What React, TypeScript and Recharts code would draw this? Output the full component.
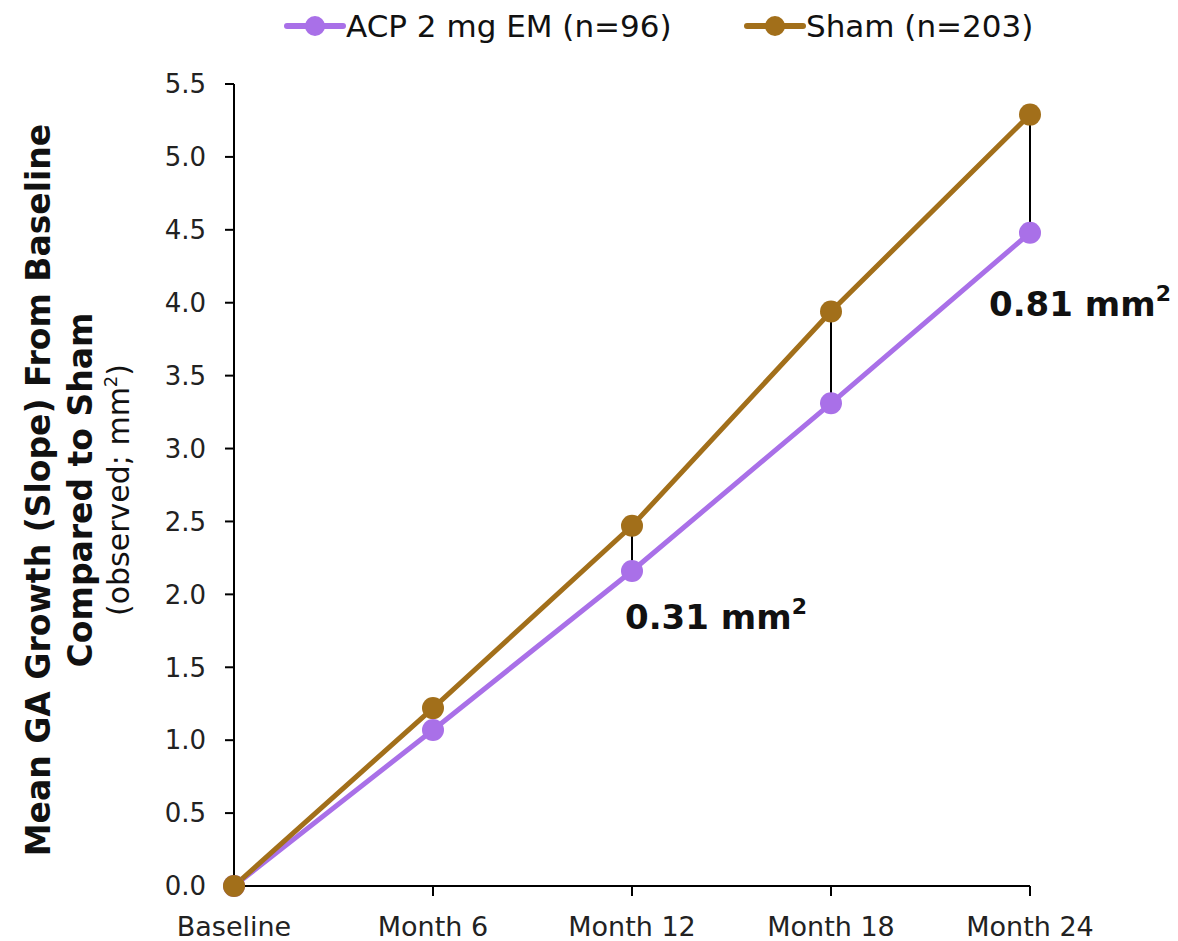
import React from 'react';
import {
  LineChart,
  Line,
  XAxis,
  YAxis,
  ReferenceLine,
  ReferenceDot,
} from 'recharts';

const months = ['Baseline', 'Month 6', 'Month 12', 'Month 18', 'Month 24'];
const acp = [0, 1.07, 2.16, 3.31, 4.48];
const sham = [0, 1.22, 2.47, 3.94, 5.29];
const yTicks = [0, 0.5, 1, 1.5, 2, 2.5, 3, 3.5, 4, 4.5, 5, 5.5];

const PURPLE = '#a970e8';
const BROWN = '#a26f1a';
const FONT = '"DejaVu Sans", "Open Sans", sans-serif';

const data = months.map((m, i) => ({ month: m, acp: acp[i], sham: sham[i] }));

// gap annotations: month index and label placement
const gaps = [
  { idx: 2, text: '0.31', dx: 84, dy: 58 },
  { idx: 3, text: '', dx: 0, dy: 0 },
  { idx: 4, text: '0.81', dx: 50, dy: 83 },
];

const GapLabel = ({ viewBox, text, dx, dy }: any) => {
  if (!text || !viewBox) return null;
  return (
    <text
      x={viewBox.x + dx}
      y={viewBox.y + dy}
      textAnchor="middle"
      fontFamily={FONT}
      fontWeight={700}
      fontSize={34}
      fill="#111"
    >
      {text} mm
      <tspan fontSize={22} dy={-15}>2</tspan>
    </text>
  );
};

const YTitle = () => (
  <text
    transform="translate(60,490) rotate(-90)"
    textAnchor="middle"
    fontFamily={FONT}
    fill="#111"
  >
    <tspan x={0} y={-10} fontSize={33} fontWeight={700}>
      Mean GA Growth (Slope) From Baseline
    </tspan>
    <tspan x={0} y={32} fontSize={33} fontWeight={700}>
      Compared to Sham
    </tspan>
    <tspan x={0} y={69} fontSize={30}>
      (observed; mm
      <tspan fontSize={18} dy={-12}>2</tspan>
      <tspan dy={12}>)</tspan>
    </tspan>
  </text>
);

const LegendItem = ({ color, label, left }: { color: string; label: string; left: number }) => (
  <div style={{ position: 'absolute', top: 8, left, display: 'flex', alignItems: 'center', whiteSpace: 'nowrap' }}>
    <svg width={62} height={24}>
      <line x1={3} y1={12} x2={59} y2={12} stroke={color} strokeWidth={6} strokeLinecap="round" />
      <circle cx={31} cy={12} r={10} fill={color} />
    </svg>
    <span style={{ fontSize: 31, color: '#111', fontFamily: FONT }}>{label}</span>
  </div>
);

export default function App() {
  return (
    <div style={{ position: 'absolute', left: 0, top: 0, width: 1178, height: 941, background: '#fff' }}>
      <LegendItem color={PURPLE} label="ACP 2 mg EM (n=96)" left={284} />
      <LegendItem color={BROWN} label="Sham (n=203)" left={744} />
      <LineChart
        width={1178}
        height={941}
        data={data}
        margin={{ top: 84, right: 148, left: 174, bottom: 5 }}
      >
        <XAxis
          dataKey="month"
          axisLine={{ stroke: '#000', strokeWidth: 2 }}
          tickLine={{ stroke: '#000', strokeWidth: 2 }}
          tickSize={10}
          tickMargin={21}
          height={50}
          interval={0}
          tick={{ fontSize: 27, fill: '#222', fontFamily: FONT }}
        />
        <YAxis
          domain={[0, 5.5]}
          ticks={yTicks}
          width={60}
          axisLine={{ stroke: '#000', strokeWidth: 2 }}
          tickLine={{ stroke: '#000', strokeWidth: 2 }}
          tickSize={9}
          tickMargin={19}
          tickFormatter={(v: number) => v.toFixed(1)}
          tick={{ fontSize: 26, fill: '#222', fontFamily: FONT }}
          label={{ content: () => <YTitle /> }}
        />
        {gaps.map((g) => (
          <ReferenceLine
            key={'l' + g.idx}
            segment={[
              { x: months[g.idx], y: acp[g.idx] },
              { x: months[g.idx], y: sham[g.idx] },
            ]}
            stroke="#000"
            strokeWidth={2}
          />
        ))}
        <Line
          dataKey="acp"
          stroke={PURPLE}
          strokeWidth={5}
          dot={{ r: 11, fill: PURPLE, stroke: 'none' }}
          isAnimationActive={false}
        />
        <Line
          dataKey="sham"
          stroke={BROWN}
          strokeWidth={5}
          dot={{ r: 11, fill: BROWN, stroke: 'none' }}
          isAnimationActive={false}
        />
        {gaps
          .filter((g) => g.text)
          .map((g) => (
            <ReferenceDot
              key={'d' + g.idx}
              x={months[g.idx]}
              y={acp[g.idx]}
              r={0}
              fill="none"
              stroke="none"
              label={(p: any) => <GapLabel {...p} text={g.text} dx={g.dx} dy={g.dy} />}
            />
          ))}
      </LineChart>
    </div>
  );
}
